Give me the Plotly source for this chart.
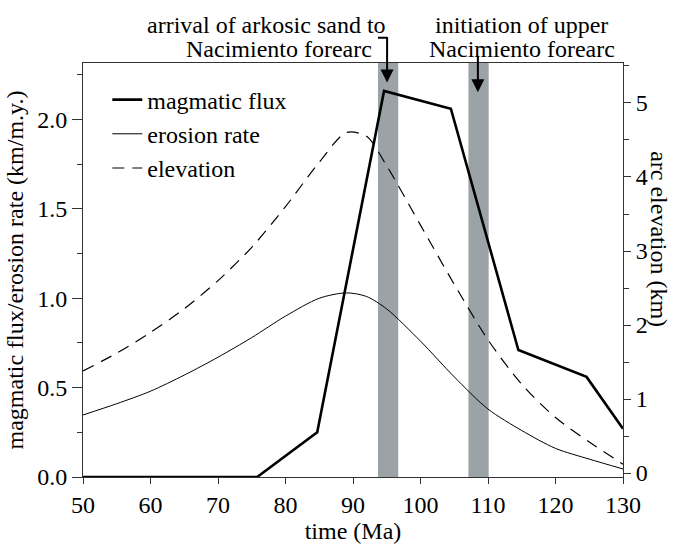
import plotly.graph_objects as go

# ---- data ----
time_flux = [50, 75.8, 84.7, 94.6, 104.5, 114.5, 124.6, 130]
magmatic_flux = [0, 0, 0.25, 2.16, 2.06, 0.71, 0.56, 0.27]

time_smooth = [50, 55, 60, 65, 70, 75, 80, 85, 89, 92, 95, 100, 105, 110, 115, 120, 125, 130]
erosion_rate = [0.347, 0.41, 0.48, 0.57, 0.67, 0.78, 0.9, 1.0, 1.03, 1.01, 0.94, 0.76, 0.56, 0.38, 0.26, 0.16, 0.1, 0.045]
elevation = [1.38, 1.62, 1.9, 2.22, 2.6, 3.05, 3.6, 4.2, 4.6, 4.55, 4.15, 3.35, 2.55, 1.8, 1.2, 0.75, 0.42, 0.12]

bands = [(93.7, 96.7), (107.1, 110.1)]
x_ticks = [50, 60, 70, 80, 90, 100, 110, 120, 130]
left_ticks = [0.0, 0.5, 1.0, 1.5, 2.0]
right_ticks = [0, 1, 2, 3, 4, 5]

FONT = "'Liberation Serif', 'Times New Roman', Times, 'DejaVu Serif', serif"
FS = 24

fig = go.Figure()
fig.add_trace(go.Scatter(x=time_flux, y=magmatic_flux, mode="lines", name="magmatic flux",
                         line=dict(color="black", width=2.6)))
fig.add_trace(go.Scatter(x=time_smooth, y=erosion_rate, mode="lines", name="erosion rate",
                         line=dict(color="black", width=1, shape="spline", smoothing=0.8)))
fig.add_trace(go.Scatter(x=time_smooth, y=elevation, mode="lines", name="elevation", yaxis="y2",
                         line=dict(color="black", width=1.2, dash="12px,8px", shape="spline", smoothing=0.8)))

shapes = []
for b0, b1 in bands:
    shapes.append(dict(type="rect", xref="x", yref="paper", x0=b0, x1=b1, y0=0, y1=1,
                       fillcolor="#9ba3a6", line=dict(width=0), layer="below"))
# bracket of first arrow
shapes.append(dict(type="line", xref="x", yref="paper", x0=93.7, x1=95.05, y0=1.061, y1=1.061,
                   line=dict(color="black", width=2)))

annotations = [
    dict(text="arrival of arkosic sand to", xref="x", yref="paper", x=95.2, y=(486 - 24) / 423,
         xanchor="right", yanchor="middle", showarrow=False, font=dict(family=FONT, size=FS, color="black")),
    dict(text="Nacimiento forearc", xref="x", yref="paper", x=93.1, y=(486 - 49) / 423,
         xanchor="right", yanchor="middle", showarrow=False, font=dict(family=FONT, size=FS, color="black")),
    dict(text="initiation of upper", xref="x", yref="paper", x=115.0, y=(486 - 24) / 423,
         xanchor="center", yanchor="middle", showarrow=False, font=dict(family=FONT, size=FS, color="black")),
    dict(text="Nacimiento forearc", xref="x", yref="paper", x=115.0, y=(486 - 49) / 423,
         xanchor="center", yanchor="middle", showarrow=False, font=dict(family=FONT, size=FS, color="black")),
    dict(text="", xref="x", yref="paper", x=95.05, y=(486 - 83) / 423, ax=0, ay=-47,
         showarrow=True, arrowhead=2, arrowsize=1.3, arrowwidth=2, arrowcolor="black"),
    dict(text="", xref="x", yref="paper", x=108.5, y=(486 - 93) / 423, ax=0, ay=-38,
         showarrow=True, arrowhead=2, arrowsize=1.3, arrowwidth=2, arrowcolor="black"),
    dict(text="arc elevation (km)", xref="paper", yref="paper", x=(659 - 83) / 540, y=(486 - 243) / 423,
         textangle=90, showarrow=False, xanchor="center", yanchor="middle",
         font=dict(family=FONT, size=FS, color="black")),
]

axis_common = dict(showgrid=False, zeroline=False, showline=True, linecolor="#333", linewidth=1,
                   tickfont=dict(family=FONT, size=FS, color="black"), tickcolor="#333")

fig.update_layout(
    width=673, height=551,
    margin=dict(l=83, r=50, t=63, b=65),
    plot_bgcolor="white", paper_bgcolor="white",
    font=dict(family=FONT, size=FS, color="black"),
    xaxis=dict(range=[50, 130], tickvals=x_ticks, ticks="outside", ticklen=6, mirror=True,
               title=dict(text="time (Ma)", font=dict(family=FONT, size=FS), standoff=4), **axis_common),
    yaxis=dict(range=[0, 2.316], tickvals=left_ticks, tickformat=".1f", ticks="outside", ticklen=10,
               minor=dict(dtick=0.25, ticks="outside", ticklen=5, tickcolor="#333"),
               title=dict(text="magmatic flux/erosion rate (km/m.y.)", font=dict(family=FONT, size=FS), standoff=6),
               **axis_common),
    yaxis2=dict(range=[-0.053, 5.54], tickvals=right_ticks, overlaying="y", side="right",
                ticks="outside", ticklen=7,
                minor=dict(dtick=0.5, ticks="outside", ticklen=5, tickcolor="#333"), **axis_common),
    legend=dict(x=0.045, y=0.965, xanchor="left", yanchor="top", bgcolor="rgba(0,0,0,0)",
                font=dict(family=FONT, size=FS), itemwidth=30, tracegroupgap=0),
    shapes=shapes, annotations=annotations,
)

fig.write_html("out.html")
